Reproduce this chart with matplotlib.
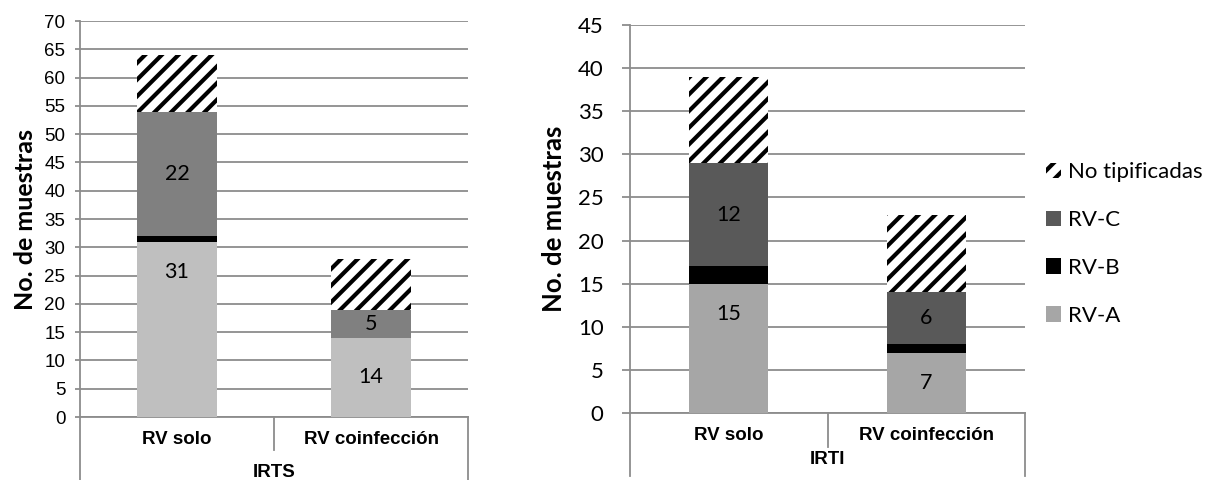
import matplotlib
matplotlib.use("Agg")
import matplotlib.pyplot as plt
from matplotlib.lines import Line2D
import numpy as np

# sample counts per category
categories = ["RV solo", "RV coinfección"]
series_names = ["No tipificadas", "RV-C", "RV-B", "RV-A"]

irts_a = [31, 14]
irts_b = [1, 0]
irts_c = [22, 5]
irts_nt = [10, 9]

irti_a = [15, 7]
irti_b = [2, 1]
irti_c = [12, 6]
irti_nt = [10, 9]

irts_ticks = list(range(0, 75, 5))
irti_ticks = list(range(0, 50, 5))

plt.rcParams["hatch.linewidth"] = 3.0
GRID = "#8c8c8c"

fig = plt.figure(figsize=(12.17, 4.8), dpi=100)


def px_axes(x0, y0, x1, y1):
    W, H = 1217, 480
    return fig.add_axes([x0 / W, 1 - y1 / H, (x1 - x0) / W, (y1 - y0) / H])


def draw_panel(ax, a, b, c, nt, ticks, group, col_a, col_c, width,
               tick_font, tick_size, tick_len, tick_pad, ylab_size,
               ylab_pos, cat_y, grp_y, div_y, out_y):
    x = np.arange(len(categories))
    a = np.array(a); b = np.array(b); c = np.array(c); nt = np.array(nt)
    ax.bar(x, a, width, color=col_a, zorder=3)
    ax.bar(x, b, width, bottom=a, color="black", zorder=3)
    ax.bar(x, c, width, bottom=a + b, color=col_c, zorder=3)
    ax.bar(x, nt, width, bottom=a + b + c, color="white", edgecolor="black",
           linewidth=0, hatch="//", zorder=3)

    # value labels on RV-A and RV-C segments
    for i in range(len(x)):
        if i == 0:
            ax.annotate(str(a[i]), (x[i], a[i]), xytext=(0, -22),
                        textcoords="offset points", ha="center", va="center",
                        fontsize=15.5, family="Lato", zorder=5)
        else:
            ax.text(x[i], a[i] / 2, str(a[i]), ha="center", va="center",
                    fontsize=15.5, family="Lato", zorder=5)
        ax.text(x[i], a[i] + b[i] + c[i] / 2, str(c[i]), ha="center",
                va="center", fontsize=15.5, family="Lato", zorder=5)

    ax.set_xlim(-0.5, len(x) - 0.5)
    ax.set_ylim(0, ticks[-1])
    ax.set_yticks(ticks)
    ax.yaxis.grid(True, color=GRID, linewidth=1.3, zorder=0)
    ax.set_axisbelow(True)
    for s in ["top", "right"]:
        ax.spines[s].set_visible(False)
    for s in ["left", "bottom"]:
        ax.spines[s].set_color(GRID)
        ax.spines[s].set_linewidth(1.3)
    ax.tick_params(axis="y", length=tick_len, width=1.3, color=GRID,
                   pad=tick_pad, labelsize=tick_size)
    for lab in ax.get_yticklabels():
        lab.set_family(tick_font)
    ax.set_xticks([])
    ax.set_ylabel("No. de muestras", family="Lato", fontsize=ylab_size,
                  fontweight="bold")
    ax.yaxis.set_label_coords(*ylab_pos)

    # category axis labels and separators
    tr = ax.get_xaxis_transform()
    for i, cat in enumerate(categories):
        ax.text(x[i], cat_y, cat, transform=tr, ha="center", va="center",
                fontsize=13.5, family="Liberation Sans", fontweight="bold")
    ax.text(np.mean(x), grp_y, group, transform=tr, ha="center", va="center",
            fontsize=13.5, family="Liberation Sans", fontweight="bold")
    for xv in x[:-1] + 0.5:
        ax.add_line(Line2D([xv, xv], [0, div_y], transform=tr, color=GRID,
                           linewidth=1.3, clip_on=False))
    for xv in [-0.5, len(x) - 0.5]:
        ax.add_line(Line2D([xv, xv], [0, out_y], transform=tr, color=GRID,
                           linewidth=1.3, clip_on=False))


ax1 = px_axes(80, 21, 468, 417)
draw_panel(ax1, irts_a, irts_b, irts_c, irts_nt, irts_ticks, "IRTS",
           "#bfbfbf", "#808080", 0.41,
           "Liberation Sans", 13.5, 3.5, 7, 18,
           (-0.11, 0.5), -0.056, -0.141, -0.083, -0.16)

ax2 = px_axes(630, 25, 1025, 413)
draw_panel(ax2, irti_a, irti_b, irti_c, irti_nt, irti_ticks, "IRTI",
           "#a6a6a6", "#595959", 0.40,
           "Lato", 16, 6, 13, 18.5,
           (-0.162, 0.5), -0.057, -0.121, -0.088, -0.163)

# legend built from the IRTI panel bars (stacked order reversed)
handles = ax2.containers[::-1]
leg = fig.legend(handles, series_names, loc="center left",
                 bbox_to_anchor=(1046 / 1217, 1 - 244 / 480), frameon=False,
                 prop={"family": "Lato", "size": 16}, handlelength=0.68,
                 handleheight=0.68, handletextpad=0.3, labelspacing=1.25,
                 borderpad=0, borderaxespad=0)

fig.savefig("out.png", dpi=100)
